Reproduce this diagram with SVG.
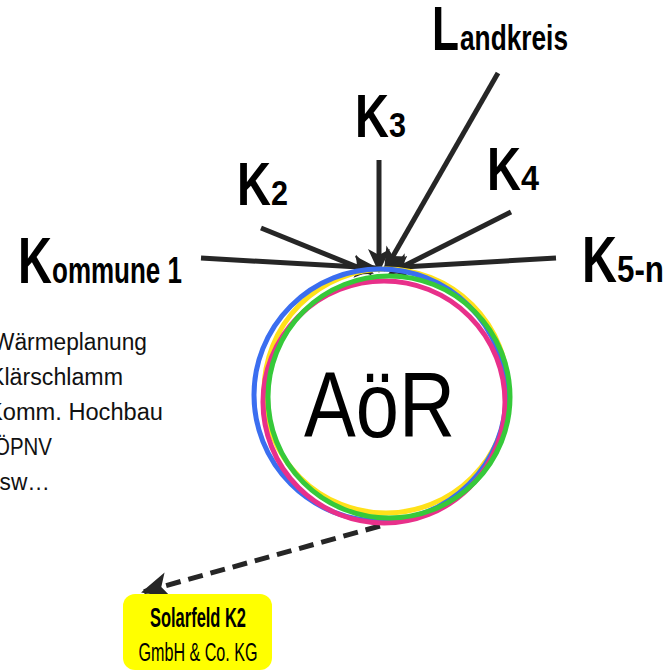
<svg xmlns="http://www.w3.org/2000/svg" width="671" height="672" viewBox="0 0 671 672">
<style>
.lbl{font-family:"Liberation Sans",Arial,sans-serif;font-weight:bold;fill:#000}
.lst{font-family:"Liberation Sans",Arial,sans-serif;font-size:23px;fill:#111}
.ray{stroke:#262626;stroke-width:5;fill:none;marker-end:url(#ah)}
.ring{fill:none;stroke-width:5}
</style>
<defs>
<marker id="ah" markerUnits="userSpaceOnUse" markerWidth="24" markerHeight="24" viewBox="0 0 24 24" refX="22" refY="12" orient="auto">
<path d="M0,1 L24,12 L0,23 L6,12 Z" fill="#262626"/>
</marker>
<marker id="ah2" markerUnits="userSpaceOnUse" markerWidth="28" markerHeight="28" viewBox="0 0 28 28" refX="26" refY="14" orient="auto">
<path d="M0,1 L28,14 L0,27 L7,14 Z" fill="#262626"/>
</marker>
</defs>
<rect width="671" height="672" fill="#fff"/>
<g id="connectors">
<line class="ray" x1="201" y1="258" x2="376" y2="268"/>
<line class="ray" x1="261" y1="228" x2="372" y2="273"/>
<line class="ray" x1="379" y1="160" x2="379" y2="271"/>
<line class="ray" x1="498" y1="73" x2="385" y2="270"/>
<line class="ray" x1="511" y1="212" x2="390" y2="273"/>
<line class="ray" x1="556" y1="258" x2="386" y2="268"/>
<line x1="380" y1="526" x2="143" y2="592" stroke="#262626" stroke-width="5" stroke-dasharray="15,8" marker-end="url(#ah2)"/>
</g>
<g id="aor">
<circle class="ring" cx="386" cy="391" r="122" stroke="#ffe11a"/>
<circle class="ring" cx="380" cy="395" r="126" stroke="#3b6ef0"/>
<circle class="ring" cx="384" cy="402" r="121" stroke="#e8308a"/>
<circle class="ring" cx="389" cy="397" r="121" stroke="#36c93a"/>
<text x="304" y="437" font-family="Liberation Sans,Arial,sans-serif" font-size="92" textLength="151" lengthAdjust="spacingAndGlyphs" fill="#000">AöR</text>
</g>
<g id="kommune1">
<text class="lbl" x="18" y="283" font-size="64" textLength="34" lengthAdjust="spacingAndGlyphs">K</text>
<text class="lbl" x="52" y="283" font-size="37" textLength="130" lengthAdjust="spacingAndGlyphs">ommune 1</text>
</g>
<g id="k2">
<text class="lbl" x="237" y="205" font-size="62" textLength="34" lengthAdjust="spacingAndGlyphs">K</text>
<text class="lbl" x="271" y="205" font-size="35" textLength="17" lengthAdjust="spacingAndGlyphs">2</text>
</g>
<g id="k3">
<text class="lbl" x="355" y="137" font-size="62" textLength="34" lengthAdjust="spacingAndGlyphs">K</text>
<text class="lbl" x="389" y="137" font-size="35" textLength="17" lengthAdjust="spacingAndGlyphs">3</text>
</g>
<g id="landkreis">
<text class="lbl" x="432" y="50" font-size="63" textLength="27" lengthAdjust="spacingAndGlyphs">L</text>
<text class="lbl" x="460" y="50" font-size="35" textLength="108" lengthAdjust="spacingAndGlyphs">andkreis</text>
</g>
<g id="k4">
<text class="lbl" x="487" y="190" font-size="62" textLength="34" lengthAdjust="spacingAndGlyphs">K</text>
<text class="lbl" x="521" y="190" font-size="35" textLength="18" lengthAdjust="spacingAndGlyphs">4</text>
</g>
<g id="k5n">
<text class="lbl" x="582" y="282" font-size="64" textLength="35" lengthAdjust="spacingAndGlyphs">K</text>
<text class="lbl" x="617" y="282" font-size="37" textLength="47" lengthAdjust="spacingAndGlyphs">5-n</text>
</g>
<g id="tasks">
<text class="lst" x="-7" y="350" textLength="154" lengthAdjust="spacingAndGlyphs">Wärmeplanung</text>
<text class="lst" x="-11" y="385" textLength="134" lengthAdjust="spacingAndGlyphs">Klärschlamm</text>
<text class="lst" x="-13" y="420" textLength="176" lengthAdjust="spacingAndGlyphs">Komm. Hochbau</text>
<text class="lst" x="-6" y="455" textLength="58" lengthAdjust="spacingAndGlyphs">ÖPNV</text>
<text class="lst" x="-13" y="490" textLength="63" lengthAdjust="spacingAndGlyphs">usw…</text>
</g>
<g id="solarfeld">
<rect x="123" y="594" width="149" height="76" rx="12" fill="#ffff00"/>
<text x="198" y="627" text-anchor="middle" font-family="Liberation Sans,Arial,sans-serif" font-size="27" font-weight="bold" textLength="96" lengthAdjust="spacingAndGlyphs">Solarfeld K2</text>
<text x="198" y="661" text-anchor="middle" font-family="Liberation Sans,Arial,sans-serif" font-size="25" textLength="119" lengthAdjust="spacingAndGlyphs">GmbH &amp; Co. KG</text>
</g>
</svg>
